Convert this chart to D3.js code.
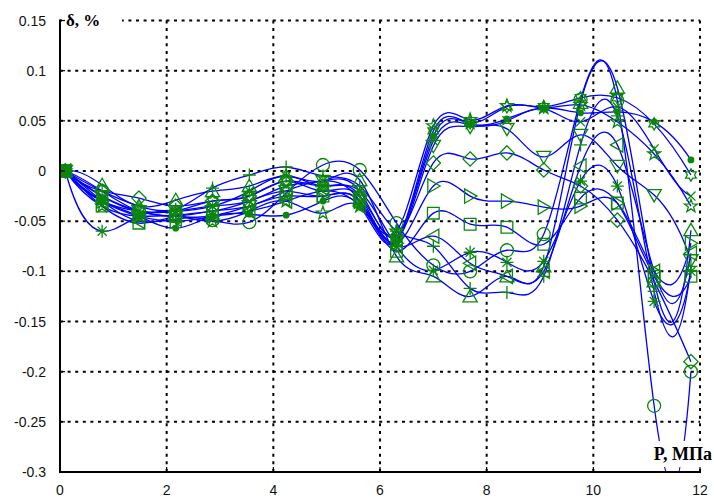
<!DOCTYPE html>
<html>
<head>
<meta charset="utf-8">
<script src="https://cdn.jsdelivr.net/npm/d3@7"></script>
<style>
  html, body { margin: 0; padding: 0; background: #fff; }
  svg { display: block; }
</style>
</head>
<body>
<svg id="chart" width="714" height="498"></svg>
<script>
// Pressure points, MPa
const pressure = [0.1, 0.79, 1.48, 2.17, 2.86, 3.55, 4.24, 4.93, 5.62, 6.31, 7.0, 7.69, 8.38, 9.07, 9.76, 10.45, 11.14, 11.83];

// Relative deviation δ, % for each run
const runDot      = [0, -0.030, -0.045, -0.057, -0.045, -0.043, -0.044, -0.030, -0.035, -0.070,  0.035,  0.047,  0.052,  0.063,  0.058,  0.059,  0.049,  0.011];
const runCircle   = [0, -0.020, -0.040, -0.045, -0.049, -0.051, -0.022,  0.006,  0.001, -0.052, -0.094, -0.100, -0.079, -0.063,  0.071,  0.070, -0.234, -0.200];
const runCross    = [0, -0.025, -0.040, -0.040, -0.035, -0.030, -0.015, -0.010, -0.020, -0.065,  0.030,  0.046,  0.050,  0.062,  0.049,  0.064,  0.022, -0.025];
const runPlus     = [0, -0.020, -0.035, -0.038, -0.017, -0.004,  0.004, -0.005, -0.015, -0.060, -0.075, -0.117, -0.121, -0.105,  0.026,  0.055, -0.120, -0.095];
const runStar     = [0, -0.060, -0.045, -0.040, -0.035, -0.020, -0.005, -0.015, -0.020, -0.075, -0.099, -0.081, -0.091, -0.090, -0.010, -0.015, -0.130, -0.100];
const runSquare   = [0, -0.035, -0.052, -0.045, -0.040, -0.030, -0.020, -0.025, -0.030, -0.080, -0.042, -0.053, -0.056, -0.073, -0.027, -0.032, -0.105, -0.105];
const runDiamond  = [0, -0.020, -0.027, -0.035, -0.030, -0.025, -0.010, -0.020, -0.025, -0.065,  0.008,  0.012,  0.018,  0.001, -0.015, -0.049, -0.110, -0.190];
const runTriDown  = [0, -0.025, -0.040, -0.045, -0.040, -0.035, -0.020, -0.010, -0.030, -0.070,  0.025,  0.044,  0.042,  0.014,  0.036,  0.005, -0.024, -0.089];
const runTriUp    = [0, -0.014, -0.035, -0.029, -0.020, -0.015, -0.005, -0.010, -0.009, -0.085, -0.105, -0.125, -0.105, -0.095,  0.068,  0.083, -0.110, -0.059];
const runTriLeft  = [0, -0.030, -0.050, -0.048, -0.045, -0.040, -0.030, -0.020, -0.035, -0.075, -0.065, -0.092, -0.105, -0.100,  0.005,  0.026, -0.100, -0.082];
const runTriRight = [0, -0.030, -0.045, -0.050, -0.045, -0.035, -0.025, -0.025, -0.030, -0.072, -0.015, -0.025, -0.030, -0.036, -0.035, -0.032, -0.100, -0.072];
const runPenta    = [0, -0.035, -0.045, -0.045, -0.050, -0.040, -0.030, -0.042, -0.035, -0.060,  0.045,  0.051,  0.065,  0.063,  0.066,  0.049,  0.017, -0.035];
const runHexa     = [0, -0.030, -0.040, -0.040, -0.030, -0.025, -0.010, -0.015, -0.025, -0.068,  0.040,  0.048,  0.064,  0.064,  0.073,  0.073,  0.047, -0.004];

const runs = [runDot, runCircle, runCross, runPlus, runStar, runSquare, runDiamond,
              runTriDown, runTriUp, runTriLeft, runTriRight, runPenta, runHexa];
const markerKinds = ["dot", "circle", "x", "plus", "asterisk", "square", "diamond",
                     "down", "up", "left", "right", "pentagram", "hexagram"];

const xTicks = [0, 2, 4, 6, 8, 10, 12];
const yTicks = [0.15, 0.1, 0.05, 0, -0.05, -0.1, -0.15, -0.2, -0.25, -0.3];
const yTickLabels = ["0.15", "0.1", "0.05", "0", "-0.05", "-0.1", "-0.15", "-0.2", "-0.25", "-0.3"];

const xLabel = "P, МПа";
const yLabel = "δ, %";

const svg = d3.select("#chart");
const plotLeft = 60, plotRight = 700, plotTop = 20.5, plotBottom = 472;

const x = d3.scaleLinear().domain([0, 12]).range([plotLeft, plotRight]);
const y = d3.scaleLinear().domain([-0.3, 0.15]).range([plotBottom, plotTop]);

const lineBlue = "#0000ff";
const markGreen = "#0b870b";

// Cubic spline curve with not-a-knot end conditions, written as Bézier segments
function CurveNotAKnot(context) { this._context = context; }
CurveNotAKnot.prototype = {
  areaStart() { this._line = 0; },
  areaEnd() { this._line = NaN; },
  lineStart() { this._x = []; this._y = []; },
  point(px, py) { this._x.push(+px); this._y.push(+py); },
  lineEnd() {
    const X = this._x, Y = this._y, n = X.length, c = this._context;
    if (!n) return;
    c.moveTo(X[0], Y[0]);
    if (n < 4) { for (let i = 1; i < n; i++) c.lineTo(X[i], Y[i]); return; }
    const h = [];
    for (let i = 0; i < n - 1; i++) h.push(X[i + 1] - X[i]);
    // Linear system for second derivatives M
    const A = Array.from({ length: n }, () => new Array(n).fill(0));
    const b = new Array(n).fill(0);
    A[0][0] = h[1]; A[0][1] = -(h[0] + h[1]); A[0][2] = h[0];
    for (let i = 1; i < n - 1; i++) {
      A[i][i - 1] = h[i - 1];
      A[i][i] = 2 * (h[i - 1] + h[i]);
      A[i][i + 1] = h[i];
      b[i] = 6 * ((Y[i + 1] - Y[i]) / h[i] - (Y[i] - Y[i - 1]) / h[i - 1]);
    }
    A[n - 1][n - 3] = h[n - 2]; A[n - 1][n - 2] = -(h[n - 3] + h[n - 2]); A[n - 1][n - 1] = h[n - 3];
    // Gaussian elimination with partial pivoting
    for (let k = 0; k < n; k++) {
      let p = k;
      for (let r = k + 1; r < n; r++) if (Math.abs(A[r][k]) > Math.abs(A[p][k])) p = r;
      [A[k], A[p]] = [A[p], A[k]]; [b[k], b[p]] = [b[p], b[k]];
      for (let r = k + 1; r < n; r++) {
        const f = A[r][k] / A[k][k];
        if (!f) continue;
        for (let cc = k; cc < n; cc++) A[r][cc] -= f * A[k][cc];
        b[r] -= f * b[k];
      }
    }
    const M = new Array(n).fill(0);
    for (let k = n - 1; k >= 0; k--) {
      let s = b[k];
      for (let cc = k + 1; cc < n; cc++) s -= A[k][cc] * M[cc];
      M[k] = s / A[k][k];
    }
    const slope = new Array(n);
    for (let i = 0; i < n - 1; i++) slope[i] = (Y[i + 1] - Y[i]) / h[i] - h[i] * (2 * M[i] + M[i + 1]) / 6;
    slope[n - 1] = (Y[n - 1] - Y[n - 2]) / h[n - 2] + h[n - 2] * (M[n - 2] + 2 * M[n - 1]) / 6;
    for (let i = 0; i < n - 1; i++) {
      const t = h[i] / 3;
      c.bezierCurveTo(X[i] + t, Y[i] + t * slope[i], X[i + 1] - t, Y[i + 1] - t * slope[i + 1], X[i + 1], Y[i + 1]);
    }
  }
};
const curveNotAKnot = context => new CurveNotAKnot(context);

// Dotted grid
const grid = svg.append("g")
  .attr("stroke", "#000").attr("stroke-width", 2).attr("stroke-dasharray", "3,4.6");
grid.selectAll("line.v").data(xTicks.filter(d => d > 0)).enter().append("line")
  .attr("x1", d => x(d)).attr("x2", d => x(d)).attr("y1", plotTop).attr("y2", plotBottom);
grid.selectAll("line.h").data(yTicks.filter(d => d > -0.3)).enter().append("line")
  .attr("y1", d => y(d)).attr("y2", d => y(d)).attr("x1", plotLeft).attr("x2", plotRight);

// Curves
svg.append("defs").append("clipPath").attr("id", "plotClip")
  .append("rect").attr("x", plotLeft).attr("y", plotTop)
  .attr("width", plotRight - plotLeft).attr("height", plotBottom - plotTop);

const line = d3.line()
  .x((d, i) => x(pressure[i]))
  .y(d => y(d))
  .curve(curveNotAKnot);

svg.append("g").attr("clip-path", "url(#plotClip)")
  .selectAll("path").data(runs).enter().append("path")
  .attr("d", d => line(d))
  .attr("fill", "none").attr("stroke", lineBlue).attr("stroke-width", 1.3);

// Marker shapes
function star(points, outer, inner, rot) {
  const p = [];
  for (let k = 0; k < points * 2; k++) {
    const r = k % 2 === 0 ? outer : inner;
    const a = rot + k * Math.PI / points;
    p.push([r * Math.cos(a), r * Math.sin(a)]);
  }
  return "M" + p.map(q => q[0].toFixed(2) + "," + q[1].toFixed(2)).join("L") + "Z";
}
const R = 6.5;
const shapes = {
  circle: `M${R},0A${R},${R} 0 1,1 ${-R},0A${R},${R} 0 1,1 ${R},0Z`,
  square: `M${-R*0.9},${-R*0.9}H${R*0.9}V${R*0.9}H${-R*0.9}Z`,
  diamond: `M0,${-R*1.1}L${R*1.1},0L0,${R*1.1}L${-R*1.1},0Z`,
  up: `M0,${-R*1.05}L${R*1.1},${R*0.85}L${-R*1.1},${R*0.85}Z`,
  down: `M0,${R*1.05}L${R*1.1},${-R*0.85}L${-R*1.1},${-R*0.85}Z`,
  left: `M${-R*1.05},0L${R*0.85},${-R*1.1}L${R*0.85},${R*1.1}Z`,
  right: `M${R*1.05},0L${-R*0.85},${-R*1.1}L${-R*0.85},${R*1.1}Z`,
  plus: `M${-R},0H${R}M0,${-R}V${R}`,
  x: `M${-R*0.7},${-R*0.7}L${R*0.7},${R*0.7}M${-R*0.7},${R*0.7}L${R*0.7},${-R*0.7}`,
  asterisk: `M${-R},0H${R}M0,${-R}V${R}M${-R*0.7},${-R*0.7}L${R*0.7},${R*0.7}M${-R*0.7},${R*0.7}L${R*0.7},${-R*0.7}`,
  pentagram: star(5, R * 1.05, R * 0.42, -Math.PI / 2),
  hexagram: star(6, R * 0.95, R * 0.55, -Math.PI / 2)
};

const markG = svg.append("g").attr("clip-path", "url(#plotClip)");
runs.forEach((vals, s) => {
  const kind = markerKinds[s];
  const g = markG.append("g");
  vals.forEach((v, i) => {
    if (kind === "dot") {
      g.append("circle").attr("cx", x(pressure[i])).attr("cy", y(v)).attr("r", 3.4)
        .attr("fill", markGreen);
    } else {
      g.append("path").attr("d", shapes[kind])
        .attr("transform", `translate(${x(pressure[i])},${y(v)})`)
        .attr("fill", "none").attr("stroke", markGreen).attr("stroke-width", 1.3);
    }
  });
});

// Axes
const axisG = svg.append("g").attr("stroke", "#000");
axisG.append("line").attr("x1", plotLeft).attr("x2", plotLeft)
  .attr("y1", plotTop - 1).attr("y2", plotBottom + 1).attr("stroke-width", 2);
axisG.append("line").attr("x1", plotLeft - 1).attr("x2", plotRight + 1)
  .attr("y1", plotBottom).attr("y2", plotBottom).attr("stroke-width", 2);
axisG.selectAll("line.yt").data(yTicks).enter().append("line")
  .attr("x1", plotLeft).attr("x2", plotLeft + 5).attr("y1", d => y(d)).attr("y2", d => y(d)).attr("stroke-width", 1.2);
axisG.selectAll("line.xt").data(xTicks).enter().append("line")
  .attr("x1", d => x(d)).attr("x2", d => x(d)).attr("y1", plotBottom).attr("y2", plotBottom - 5).attr("stroke-width", 1.2);

svg.append("g").selectAll("text").data(yTicks).enter().append("text")
  .attr("x", 46).attr("y", d => y(d)).attr("dy", "0.36em")
  .attr("text-anchor", "end")
  .attr("font-family", "Liberation Sans, Arial, sans-serif").attr("font-size", 14).attr("fill", "#111")
  .text((d, i) => yTickLabels[i]);

svg.append("g").selectAll("text").data(xTicks).enter().append("text")
  .attr("x", d => x(d)).attr("y", 495)
  .attr("text-anchor", "middle")
  .attr("font-family", "Liberation Sans, Arial, sans-serif").attr("font-size", 14).attr("fill", "#111")
  .text(d => d);

// Axis captions on white boxes
svg.append("rect").attr("x", plotLeft + 2).attr("y", 10).attr("width", 60).attr("height", 20).attr("fill", "#fff");
svg.append("line").attr("x1", plotLeft).attr("x2", plotLeft + 5).attr("y1", plotTop).attr("y2", plotTop)
  .attr("stroke", "#000").attr("stroke-width", 1.2);
svg.append("text").attr("x", 66).attr("y", 26)
  .attr("font-family", "Liberation Serif, Times New Roman, serif").attr("font-weight", "bold").attr("font-size", 17)
  .text(yLabel);

svg.append("rect").attr("x", 646).attr("y", 441).attr("width", 68).attr("height", 26).attr("fill", "#fff");
svg.append("text").attr("x", 712).attr("y", 460).attr("text-anchor", "end")
  .attr("font-family", "Liberation Serif, Times New Roman, serif").attr("font-weight", "bold").attr("font-size", 18)
  .text(xLabel);
</script>
</body>
</html>
